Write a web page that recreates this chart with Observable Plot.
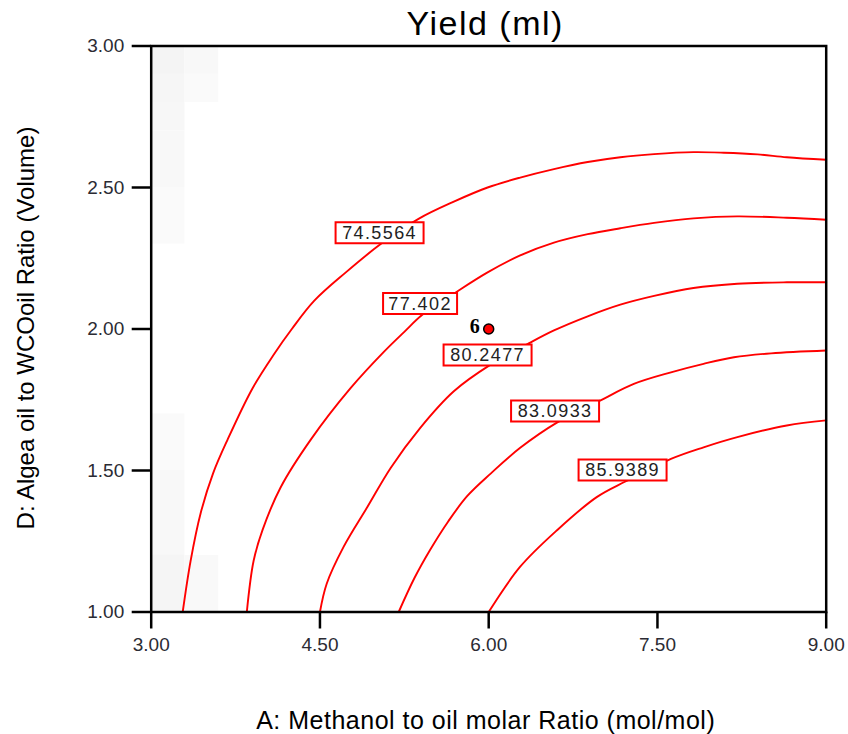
<!DOCTYPE html>
<html>
<head>
<meta charset="utf-8">
<script src="https://cdn.jsdelivr.net/npm/d3@7"></script>
<script src="https://cdn.jsdelivr.net/npm/@observablehq/plot@0.6"></script>
<style>
  body { margin: 0; background: #fff; }
  g[aria-description="contour labels"] text { letter-spacing: 1.4px; }
  g[aria-description="chart title"] text { letter-spacing: 1.5px; }
  g[aria-description="x label"] text { letter-spacing: 0.5px; }
</style>
</head>
<body>
<div id="chart"></div>
<script>
// ---- data ----
const xTicks = [3, 4.5, 6, 7.5, 9];
const yTicks = [1, 1.5, 2, 2.5, 3];

const contourLevels = ["74.5564", "77.402", "80.2477", "83.0933", "85.9389"];

const contour74 = [[3.28,1.00],[3.35,1.18],[3.44,1.35],[3.55,1.49],[3.68,1.61],[3.90,1.79],[4.09,1.91],[4.25,2.00],[4.45,2.10],[4.73,2.20],[5.04,2.30],[5.38,2.39],[5.69,2.45],[5.99,2.50],[6.28,2.535],[6.58,2.565],[6.88,2.59],[7.17,2.607],[7.47,2.618],[7.82,2.625],[8.09,2.623],[8.39,2.617],[8.65,2.607],[9.00,2.598]];
const contour77 = [[3.85,1.00],[3.91,1.18],[3.99,1.29],[4.15,1.44],[4.42,1.61],[4.77,1.79],[5.07,1.92],[5.25,1.99],[5.41,2.05],[5.71,2.13],[5.99,2.20],[6.28,2.26],[6.58,2.305],[6.88,2.335],[7.17,2.356],[7.47,2.375],[7.82,2.391],[8.21,2.398],[8.65,2.393],[9.00,2.386]];
const contour80 = [[4.50,1.00],[4.56,1.10],[4.71,1.23],[4.92,1.37],[5.13,1.51],[5.39,1.65],[5.69,1.78],[6.02,1.875],[6.36,1.95],[6.58,1.995],[6.88,2.045],[7.17,2.086],[7.47,2.117],[7.82,2.145],[8.21,2.16],[8.65,2.165],[9.00,2.165]];
const contour83 = [[5.20,1.00],[5.34,1.12],[5.48,1.22],[5.64,1.32],[5.81,1.41],[6.02,1.49],[6.28,1.58],[6.61,1.67],[6.99,1.747],[7.29,1.806],[7.62,1.847],[7.91,1.877],[8.18,1.90],[8.51,1.914],[9.00,1.924]];
const contour86 = [[6.00,1.00],[6.28,1.16],[6.61,1.29],[6.96,1.406],[7.22,1.462],[7.62,1.541],[7.91,1.582],[8.21,1.618],[8.65,1.659],[9.00,1.677]];

const labelText = ["74.5564", "77.402", "80.2477", "83.0933", "85.9389"];
const labelX = [5.03, 5.39, 5.99, 6.59, 7.19];
const labelY = [2.34, 2.09, 1.908, 1.71, 1.502];

const pointX = [6.00];
const pointY = [2.00];
const pointLabel = ["6"];

// faint design-space shading cells (x1, x2, y1, y2, shade)
const cellX1 = [3.0, 3.0, 3.0, 3.0, 3.0, 3.0, 3.0, 3.0, 3.3, 3.3, 3.3];
const cellX2 = [3.3, 3.3, 3.3, 3.3, 3.3, 3.3, 3.3, 3.3, 3.6, 3.6, 3.6];
const cellY1 = [2.9, 2.8, 2.7, 2.5, 2.3, 1.5, 1.2, 1.0, 2.9, 2.8, 1.0];
const cellY2 = [3.0, 2.9, 2.8, 2.7, 2.5, 1.7, 1.5, 1.2, 3.0, 2.9, 1.2];
const cellShade = [0.8, 0.67, 0.6, 0.47, 0.33, 0.33, 0.53, 0.73, 0.47, 0.33, 0.4];

const titleText = "Yield (ml)";
const xLabel = "A: Methanol to oil molar Ratio (mol/mol)";
const yLabel = "D: Algea oil to WCOoil Ratio (Volume)";

// ---- derived tables ----
const contours = [contour74, contour77, contour80, contour83, contour86];
const lineData = contours.flatMap((pts, i) => pts.map(([x, y]) => ({level: contourLevels[i], x, y})));
const labelRows = labelText.map((t, i) => ({text: t, x: labelX[i], y: labelY[i]}));
const pointRows = pointX.map((x, i) => ({x, y: pointY[i], label: pointLabel[i]}));
const cellRows = cellX1.map((x1, i) => ({x1, x2: cellX2[i], y1: cellY1[i], y2: cellY2[i], shade: cellShade[i]}));

function boxSymbol(w, h) {
  return { draw(context) { context.rect(-w / 2, -h / 2, w, h); } };
}

const fmt = d3.format(".2f");

const boxMarks = labelRows.map(row =>
  Plot.dot([row], {
    x: "x", y: "y",
    symbol: boxSymbol(14 * row.text.length - 10, 21),
    fill: "white", stroke: "red", strokeWidth: 2
  })
);

const chart = Plot.plot({
  width: 848,
  height: 734,
  marginLeft: 150.7,
  marginRight: 22.3,
  marginTop: 45.5,
  marginBottom: 122.5,
  style: { fontFamily: "'Liberation Sans', Arial, sans-serif", background: "white" },
  x: { domain: [3, 9], label: null },
  y: { domain: [1, 3], label: null },
  color: { type: "linear", domain: [0, 1], range: ["#ffffff", "#f1f1f1"] },
  marks: [
    Plot.rect(cellRows, { x1: "x1", x2: "x2", y1: "y1", y2: "y2", fill: "shade" }),
    Plot.line(lineData, { x: "x", y: "y", z: "level", stroke: "red", strokeWidth: 1.9, curve: "catmull-rom" }),
    ...boxMarks,
    Plot.text(labelRows, { x: "x", y: "y", text: "text", fontSize: 18, fill: "#222", textAnchor: "middle", lineAnchor: "middle", dy: 0.5, ariaDescription: "contour labels" }),
    Plot.dot(pointRows, { x: "x", y: "y", r: 5, fill: "red", stroke: "black", strokeWidth: 1.5 }),
    Plot.text(pointRows, { x: "x", y: "y", text: "label", dx: -14, dy: -2, fontSize: 20, fontWeight: "bold", fontFamily: "'Liberation Serif', 'Times New Roman', serif", fill: "black" }),
    Plot.frame({ stroke: "black", strokeWidth: 2.5 }),
    Plot.axisX(xTicks, { tickFormat: fmt, tickSize: 17, tickPadding: 8, fontSize: 19, stroke: "black", strokeWidth: 2.5, fill: "#2b2b33", label: null }),
    Plot.axisY(yTicks, { tickFormat: fmt, tickSize: 19, tickPadding: 8, fontSize: 19, stroke: "black", strokeWidth: 2.5, fill: "#2b2b33", label: null }),
    Plot.text([titleText], { frameAnchor: "top", lineAnchor: "bottom", dy: -11.5, dx: -3.5, fontSize: 34, fill: "black", ariaDescription: "chart title" }),
    Plot.text([xLabel], { frameAnchor: "bottom", lineAnchor: "bottom", dy: 116.8, dx: -3, fontSize: 25, fill: "black", ariaDescription: "x label" }),
    Plot.text([yLabel], { frameAnchor: "left", rotate: -90, textAnchor: "middle", lineAnchor: "bottom", dx: -117.4, dy: -1, fontSize: 24, fill: "black", ariaDescription: "y label" })
  ]
});

document.getElementById("chart").appendChild(chart);
</script>
</body>
</html>
